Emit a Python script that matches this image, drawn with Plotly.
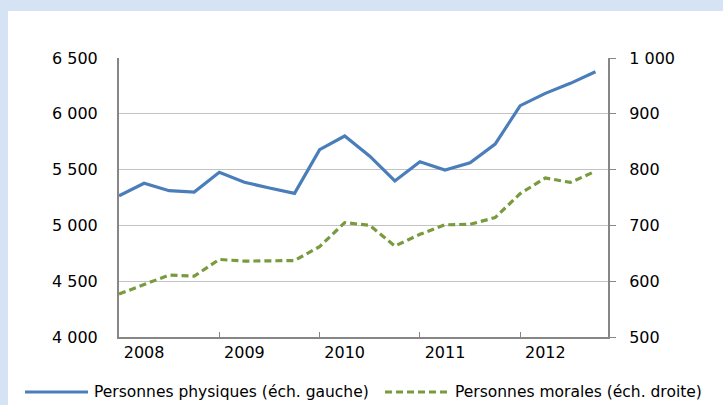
import plotly.graph_objects as go

# quarterly data, 2008-T1 .. 2012-T4
quarters = [f"{y}T{q}" for y in range(2008, 2013) for q in range(1, 5)]
physiques = [5266, 5378, 5311, 5299, 5476, 5386, 5335, 5287, 5679, 5801,
             5620, 5398, 5571, 5496, 5562, 5729, 6073, 6183, 6273, 6377]
morales = [577, 594, 611, 609, 639, 636, 637, 637, 662, 705,
           700, 663, 684, 701, 702, 714, 757, 785, 777, 797]

year_labels = ["2008", "2009", "2010", "2011", "2012"]
left_ticks = [4000, 4500, 5000, 5500, 6000, 6500]
left_text = ["4 000", "4 500", "5 000", "5 500", "6 000", "6 500"]
right_ticks = [500, 600, 700, 800, 900, 1000]
right_text = ["500", "600", "700", "800", "900", "1 000"]
legend_names = ["Personnes physiques (éch. gauche)", "Personnes morales (éch. droite)"]

BLUE = "#4a7ebb"
GREEN = "#7a9b3d"
AXIS = "#868686"
GRID = "#c3c3c3"
FONT = dict(family="DejaVu Sans", size=16, color="#000000")
LEG_FONT = dict(family="DejaVu Sans", size=15.5, color="#000000")

x = list(range(len(quarters)))

fig = go.Figure()
fig.add_trace(go.Scatter(x=x, y=physiques, mode='lines', name=legend_names[0],
                         line=dict(color=BLUE, width=3.2)))
fig.add_trace(go.Scatter(x=x, y=morales, mode='lines', name=legend_names[1],
                         yaxis='y2', line=dict(color=GREEN, width=3.2, dash='7px,4px')))

W, H = 723, 405
L, R, T, B = 119, 115, 58, 68
pw, ph = W - L - R, H - T - B

def px_x(p):
    return (p - L) / pw

def px_y(p):
    return (H - B - p) / ph

# light blue frame (top and left bands)
shapes = [
    dict(type='rect', xref='paper', yref='paper', x0=px_x(0), x1=px_x(W),
         y0=px_y(11), y1=px_y(0), fillcolor="#d6e3f4", line_width=0, layer='below'),
    dict(type='rect', xref='paper', yref='paper', x0=px_x(0), x1=px_x(8),
         y0=px_y(H), y1=px_y(0), fillcolor="#d6e3f4", line_width=0, layer='below'),
    # legend samples
    dict(type='line', xref='paper', yref='paper', x0=px_x(25), x1=px_x(88),
         y0=px_y(392), y1=px_y(392), line=dict(color=BLUE, width=3)),
    dict(type='line', xref='paper', yref='paper', x0=px_x(385), x1=px_x(449),
         y0=px_y(392), y1=px_y(392), line=dict(color=GREEN, width=3, dash='7px,4px')),
]

annotations = [
    dict(text=legend_names[0], xref='paper', yref='paper', x=px_x(92), y=px_y(392),
         xanchor='left', yanchor='middle', showarrow=False, font=LEG_FONT),
    dict(text=legend_names[1], xref='paper', yref='paper', x=px_x(453), y=px_y(392),
         xanchor='left', yanchor='middle', showarrow=False, font=LEG_FONT),
]

fig.update_layout(
    width=W, height=H,
    margin=dict(l=L, r=R, t=T, b=B),
    paper_bgcolor='white', plot_bgcolor='white',
    font=FONT,
    showlegend=False,
    shapes=shapes,
    annotations=annotations,
    xaxis=dict(
        range=[0, 19.5],
        tickmode='array', tickvals=[1, 5, 9, 13, 17], ticktext=year_labels,
        ticks='', showgrid=False, zeroline=False,
        showline=True, linecolor=AXIS, linewidth=2,
        minor=dict(tickmode='array', tickvals=[4, 8, 12, 16], ticks='inside',
                   ticklen=5, tickcolor=AXIS, tickwidth=1, showgrid=False),
        fixedrange=True,
    ),
    yaxis=dict(
        range=[4000, 6500],
        tickmode='array', tickvals=left_ticks, ticktext=left_text,
        ticks='', ticklabelstandoff=16,
        showgrid=True, gridcolor=GRID, gridwidth=1, zeroline=False,
        showline=True, linecolor=AXIS, linewidth=2,
    ),
    yaxis2=dict(
        range=[500, 1000], overlaying='y', side='right',
        tickmode='array', tickvals=right_ticks, ticktext=right_text,
        ticks='outside', ticklen=6, tickcolor=AXIS, ticklabelstandoff=10,
        showgrid=False, zeroline=False,
        showline=True, linecolor=AXIS, linewidth=2,
    ),
)

# drop the page's default body margin so the figure sits at the window origin
fig.write_html("out.html", config={'displayModeBar': False},
               post_script="document.body.style.margin='0';")
